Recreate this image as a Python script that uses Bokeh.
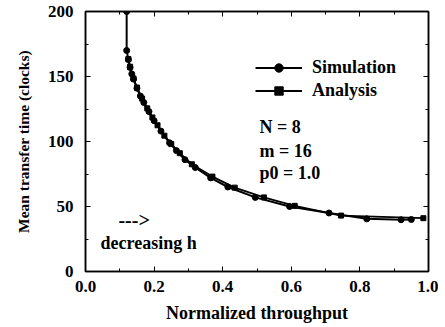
from bokeh.plotting import figure
from bokeh.models import (Range1d, LinearAxis, FixedTicker, PrintfTickFormatter,
                          Legend, LegendItem, Label)
from bokeh.embed import file_html
from bokeh.resources import INLINE

# Data
sim_x = [0.12, 0.12, 0.125, 0.13, 0.135, 0.14, 0.15, 0.16, 0.17, 0.185, 0.20, 0.22,
         0.245, 0.265, 0.29, 0.32, 0.365, 0.415, 0.495, 0.595, 0.71, 0.82, 0.92, 0.95]
sim_y = [200, 170, 163, 157, 152, 148, 141, 135, 130, 123, 116, 108,
         99, 93, 86, 80, 72, 65, 57, 50, 45, 40.5, 39.8, 40]
ana_x = [0.125, 0.13, 0.14, 0.15, 0.165, 0.18, 0.195, 0.21, 0.23, 0.25, 0.275,
         0.31, 0.37, 0.435, 0.52, 0.61, 0.745, 0.985]
ana_y = [163.5, 157.5, 148.5, 141.5, 133, 125.5, 118.5, 112.5, 104.5, 98, 91,
         82.5, 73, 64.5, 57, 50.5, 43, 41]
x_ticks = [0.0, 0.2, 0.4, 0.6, 0.8, 1.0]
x_minor = [0.1, 0.3, 0.5, 0.7, 0.9]
y_ticks = [0, 50, 100, 150, 200]
y_minor = [25, 75, 125, 175]
params = ["N = 8", "m = 16", "p0 = 1.0"]
param_y = [110.8, 93, 75.4]
FONT = "Liberation Serif"

p = figure(width=438, height=325, output_backend="svg", toolbar_location=None,
           x_range=Range1d(0, 1), y_range=Range1d(0, 200),
           min_border_left=85, min_border_right=10, min_border_top=11, min_border_bottom=54,
           x_axis_label="Normalized throughput", y_axis_label="Mean transfer time (clocks)")
p.grid.visible = False
p.outline_line_color = "black"
p.outline_line_width = 1.5
p.background_fill_color = "white"
p.border_fill_color = "white"

def style_axis(ax, ticks, minor, fmt, show_labels=True):
    ax.ticker = FixedTicker(ticks=ticks, minor_ticks=minor)
    ax.formatter = PrintfTickFormatter(format=fmt)
    ax.major_tick_in = 5
    ax.major_tick_out = 0
    ax.minor_tick_in = 3
    ax.minor_tick_out = 0
    ax.axis_line_color = "black"
    ax.axis_line_width = 1.5
    ax.major_label_text_font = FONT
    ax.major_label_text_font_style = "bold"
    ax.major_label_text_font_size = "17px"
    ax.major_label_text_color = "black"
    ax.axis_label_text_font = FONT
    ax.axis_label_text_font_style = "bold"
    ax.axis_label_text_color = "black"
    if not show_labels:
        ax.major_label_overrides = {t: "" for t in ticks}

for ax in p.xaxis:
    style_axis(ax, x_ticks, x_minor, "%.1f")
    ax.axis_label_text_font_size = "18px"
    ax.major_label_standoff = 9
    ax.axis_label_standoff = 8
for ax in p.yaxis:
    style_axis(ax, y_ticks, y_minor, "%d")
    ax.axis_label_text_font_size = "15.5px"
    ax.major_label_standoff = 12
    ax.axis_label_standoff = 13

top = LinearAxis()
style_axis(top, x_ticks, x_minor, "%.1f", show_labels=False)
p.add_layout(top, "above")
right = LinearAxis()
style_axis(right, y_ticks, y_minor, "%d", show_labels=False)
p.add_layout(right, "right")

l1 = p.line(sim_x, sim_y, line_color="black", line_width=2)
s1 = p.scatter(sim_x, sim_y, marker="circle", size=6, fill_color="black", line_color="black")
l2 = p.line(ana_x, ana_y, line_color="black", line_width=1.8)
s2 = p.scatter(ana_x, ana_y, marker="square", size=5, fill_color="black", line_color="black")

legend = Legend(items=[LegendItem(label="Simulation", renderers=[l1, s1]),
                       LegendItem(label="Analysis", renderers=[l2, s2])],
                location=(170, 170), orientation="vertical",
                background_fill_alpha=0, border_line_alpha=0,
                glyph_width=47, glyph_height=21, label_height=21, spacing=2,
                padding=0, margin=0, label_standoff=10,
                label_text_font=FONT, label_text_font_style="bold",
                label_text_font_size="18px", label_text_color="black")
p.add_layout(legend, "center")

for t, yy in zip(params, param_y):
    p.add_layout(Label(x=0.507, y=yy, text=t, text_font=FONT, text_font_style="bold",
                       text_font_size="18px", text_color="black", text_baseline="middle"))
p.add_layout(Label(x=0.096, y=40, text="--->", text_font=FONT, text_font_style="bold",
                   text_font_size="20px", text_color="black", text_baseline="middle"))
p.add_layout(Label(x=0.044, y=22.3, text="decreasing h", text_font=FONT, text_font_style="bold",
                   text_font_size="18px", text_color="black", text_baseline="middle"))

open("out.html", "w").write(file_html(p, INLINE))
